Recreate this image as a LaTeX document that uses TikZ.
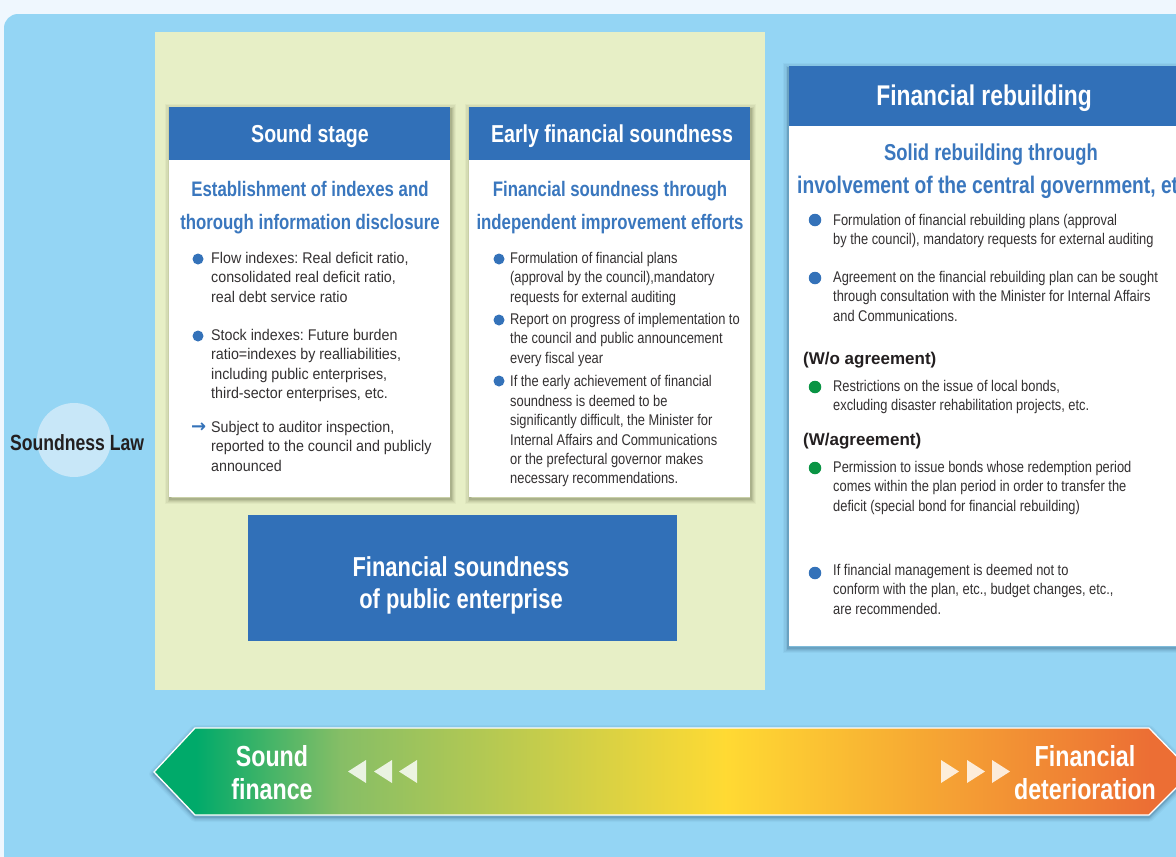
\documentclass[tikz,border=0pt]{standalone}
\usepackage{fontspec}
\setmainfont{Liberation Sans}
\newfontfamily\cnr[FakeStretch=0.92]{Liberation Sans}
\newfontfamily\cnrE[FakeStretch=0.83]{Liberation Sans}
\newfontfamily\cnb[FakeStretch=0.8]{Liberation Sans}
\newfontfamily\symf{DejaVu Sans}
\frenchspacing
\definecolor{pagebg}{HTML}{EFF7FE}
\definecolor{skyb}{HTML}{94D5F4}
\definecolor{paleg}{HTML}{E7EFC6}
\definecolor{hdrblue}{HTML}{3170B8}
\definecolor{subblue}{HTML}{3A77BE}
\definecolor{dotblue}{HTML}{3472B9}
\definecolor{dotgreen}{HTML}{0A9444}
\definecolor{txt}{HTML}{343132}
\definecolor{txtdark}{HTML}{231F20}
\definecolor{circ}{HTML}{C8E7F8}
\definecolor{shol}{HTML}{55583A}
\definecolor{shbl}{HTML}{2F5A78}
\definecolor{gA}{HTML}{00AA6A}
\definecolor{gM}{HTML}{86BE66}
\definecolor{gB}{HTML}{FFDA33}
\definecolor{gC}{HTML}{EC6E34}
\newcommand\softshadow[3]{%
  \foreach \w/\o in {10/0.05,7.5/0.07,5/0.09,3/0.12,1.5/0.15}{%
    \draw[#1,line width=\w pt,opacity=\o] #2 rectangle #3;}}
\begin{document}
\begin{tikzpicture}[x=1pt,y=-1pt,
  wbox/.style={anchor=north west,fill=white,inner sep=0pt,draw=none},
  hbox/.style={anchor=north west,fill=hdrblue,inner sep=0pt,draw=none},
  hdrtxt/.style={font=\cnb\bfseries\fontsize{24.5}{28}\selectfont,text=white,inner sep=0pt},
  subtxt/.style={font=\cnb\bfseries\fontsize{21}{33}\selectfont,text=subblue,inner sep=0pt,align=center},
  body/.style={font=\cnr\fontsize{15.5}{19.4}\selectfont,text=txt,align=left,inner sep=0pt,anchor=north west},
  bodyE/.style={font=\cnrE\fontsize{15.5}{19.4}\selectfont,text=txt,align=left,inner sep=0pt,anchor=north west},
  bdot/.style={circle,fill=dotblue,inner sep=0pt,minimum size=11pt},
  gdot/.style={circle,fill=dotgreen,inner sep=0pt,minimum size=12.5pt},
  bdotL/.style={circle,fill=dotblue,inner sep=0pt,minimum size=12.5pt},
  agr/.style={font=\bfseries\fontsize{17}{20}\selectfont,text=txtdark,inner sep=0pt,anchor=west},
  arrtxt/.style={font=\cnb\bfseries\fontsize{29}{33}\selectfont,text=white,inner sep=0pt,align=center},
  tri/.style={fill=white,opacity=0.82}
]
\useasboundingbox (0,0) rectangle (1176,857);
\clip (0,0) rectangle (1176,857);
\fill[pagebg] (0,0) rectangle (1176,857);
\fill[skyb,rounded corners=14pt] (4,14) rectangle (1300,875);
\fill[paleg] (155,32) rectangle (765,690);

% Soundness Law
\node[circle,fill=circ,minimum size=74pt,inner sep=0pt] (lawc) at (74,440) {};
\node[font=\cnb\bfseries\fontsize{22}{26}\selectfont,text=txtdark,inner sep=0pt] (law) at (77,443) {Soundness Law};

% ---- Sound stage box
\softshadow{shol}{(170,109)}{(451,499)}
\node[wbox,minimum width=281pt,minimum height=390pt] (sb) at (169,107) {};
\node[hbox,minimum width=281pt,minimum height=53pt] (sbh) at (169,107) {};
\node[hdrtxt] (sbt) at (310,136) {Sound stage};
\node[subtxt] (sbs) at (310,208) {Establishment of indexes and\\thorough information disclosure};
\node[bdot] (sd1) at (198,259) {};
\node[body] (st1) at (211,252) {Flow indexes: Real deficit ratio,\\consolidated real deficit ratio,\\real debt service ratio};
\node[bdot] (sd2) at (198,336) {};
\node[body] (st2) at (211,329) {Stock indexes: Future burden\\ratio=indexes by realliabilities,\\including public enterprises,\\third-sector enterprises, etc.};
\node[font=\symf\bfseries\fontsize{18}{18}\selectfont,text=dotblue,inner sep=0pt,anchor=west] (sar) at (191,428) {→};
\node[body] (st3) at (211,421) {Subject to auditor inspection,\\reported to the council and publicly\\announced};

% ---- Early financial soundness box
\softshadow{shol}{(470,109)}{(751,499)}
\node[wbox,minimum width=281pt,minimum height=390pt] (eb) at (469,107) {};
\node[hbox,minimum width=281pt,minimum height=53pt] (ebh) at (469,107) {};
\node[hdrtxt] (ebt) at (612,136) {Early financial soundness};
\node[subtxt] (ebs) at (610,208) {Financial soundness through\\independent improvement efforts};
\node[bdot] (ed1) at (499,259) {};
\node[bodyE] (et1) at (510,252) {Formulation of financial plans\\(approval by the council),mandatory\\requests for external auditing};
\node[bdot] (ed2) at (499,320) {};
\node[bodyE] (et2) at (510,313) {Report on progress of implementation to\\the council and public announcement\\every fiscal year};
\node[bdot] (ed3) at (499,381) {};
\node[bodyE] (et3) at (510,375.5) {If the early achievement of financial\\soundness is deemed to be\\significantly difficult, the Minister for\\Internal Affairs and Communications\\or the prefectural governor makes\\necessary recommendations.};

% ---- Public enterprise box
\node[hbox,minimum width=429pt,minimum height=126pt] (pe) at (248,515) {};
\node[font=\cnb\bfseries\fontsize{27.4}{32}\selectfont,text=white,inner sep=0pt,align=center] (pet) at (461,585) {Financial soundness\\of public enterprise};

% ---- Financial rebuilding box
\softshadow{shbl}{(788,68)}{(1220,648)}
\node[wbox,minimum width=430pt,minimum height=580pt] (rb) at (789,66) {};
\node[hbox,minimum width=430pt,minimum height=60pt] (rbh) at (789,66) {};
\node[font=\cnb\bfseries\fontsize{28.5}{30}\selectfont,text=white,inner sep=0pt] (rbt) at (984,98) {Financial rebuilding};
\node[font=\cnb\bfseries\fontsize{23}{26}\selectfont,text=subblue,inner sep=0pt] (rbs1) at (991,155) {Solid rebuilding through};
\node[font=\cnb\bfseries\fontsize{24}{26}\selectfont,text=subblue,inner sep=0pt,anchor=base west] (rbs2) at (797,193) {involvement of the central government, etc.};
\node[bdotL] (rd1) at (815,220) {};
\node[bodyE] (rt1) at (833,214) {Formulation of financial rebuilding plans (approval\\by the council), mandatory requests for external auditing};
\node[bdotL] (rd2) at (815,278) {};
\node[bodyE] (rt2) at (833,271) {Agreement on the financial rebuilding plan can be sought\\through consultation with the Minister for Internal Affairs\\and Communications.};
\node[agr] (wo) at (803,360) {(W/o agreement)};
\node[gdot] (rd3) at (815,387) {};
\node[bodyE] (rt3) at (833,380) {Restrictions on the issue of local bonds,\\excluding disaster rehabilitation projects, etc.};
\node[agr] (wa) at (803,441) {(W/agreement)};
\node[gdot] (rd4) at (815,468) {};
\node[bodyE] (rt4) at (833,461) {Permission to issue bonds whose redemption period\\comes within the plan period in order to transfer the\\deficit (special bond for financial rebuilding)};
\node[bdotL] (rd5) at (815,573) {};
\node[bodyE] (rt5) at (833,564) {If financial management is deemed not to\\conform with the plan, etc., budget changes, etc.,\\are recommended.};

% ---- Bottom scale arrow
\foreach \w/\o in {10/0.05,7.5/0.07,5/0.09,3/0.12,1.5/0.15}{%
  \draw[shbl,line width=\w pt,opacity=\o,line join=round]
    (154,774) -- (195,730) -- (1149,730) -- (1192,774) -- (1149,817) -- (195,817) -- cycle;}
\begin{scope}
  \clip (154,772) -- (195,728) -- (1149,728) -- (1192,772) -- (1149,815) -- (195,815) -- cycle;
  \shade[left color=gA,right color=gA] (150,720) rectangle (196,820);
  \shade[left color=gA,right color=gM] (195.5,720) rectangle (341,820);
  \shade[left color=gM,right color=gB] (340,720) rectangle (726,820);
  \shade[left color=gB,right color=gC] (725,720) rectangle (1150,820);
  \shade[left color=gC,right color=gC] (1149,720) rectangle (1200,820);
\end{scope}
\draw[white,line width=1.3pt]
  (154,772) -- (195,728) -- (1149,728) -- (1192,772) -- (1149,815) -- (195,815) -- cycle;
\fill[tri] (348,771.5) -- (366,760) -- (366,783) -- cycle;
\fill[tri] (374,771.5) -- (392,760) -- (392,783) -- cycle;
\fill[tri] (399,771.5) -- (417,760) -- (417,783) -- cycle;
\fill[tri] (959,771.5) -- (941,760) -- (941,783) -- cycle;
\fill[tri] (985,771.5) -- (967,760) -- (967,783) -- cycle;
\fill[tri] (1010,771.5) -- (992,760) -- (992,783) -- cycle;
\node[arrtxt] (sf) at (272,773) {Sound\\finance};
\node[arrtxt] (fd) at (1085,773) {Financial\\deterioration};
\end{tikzpicture}
\end{document}
